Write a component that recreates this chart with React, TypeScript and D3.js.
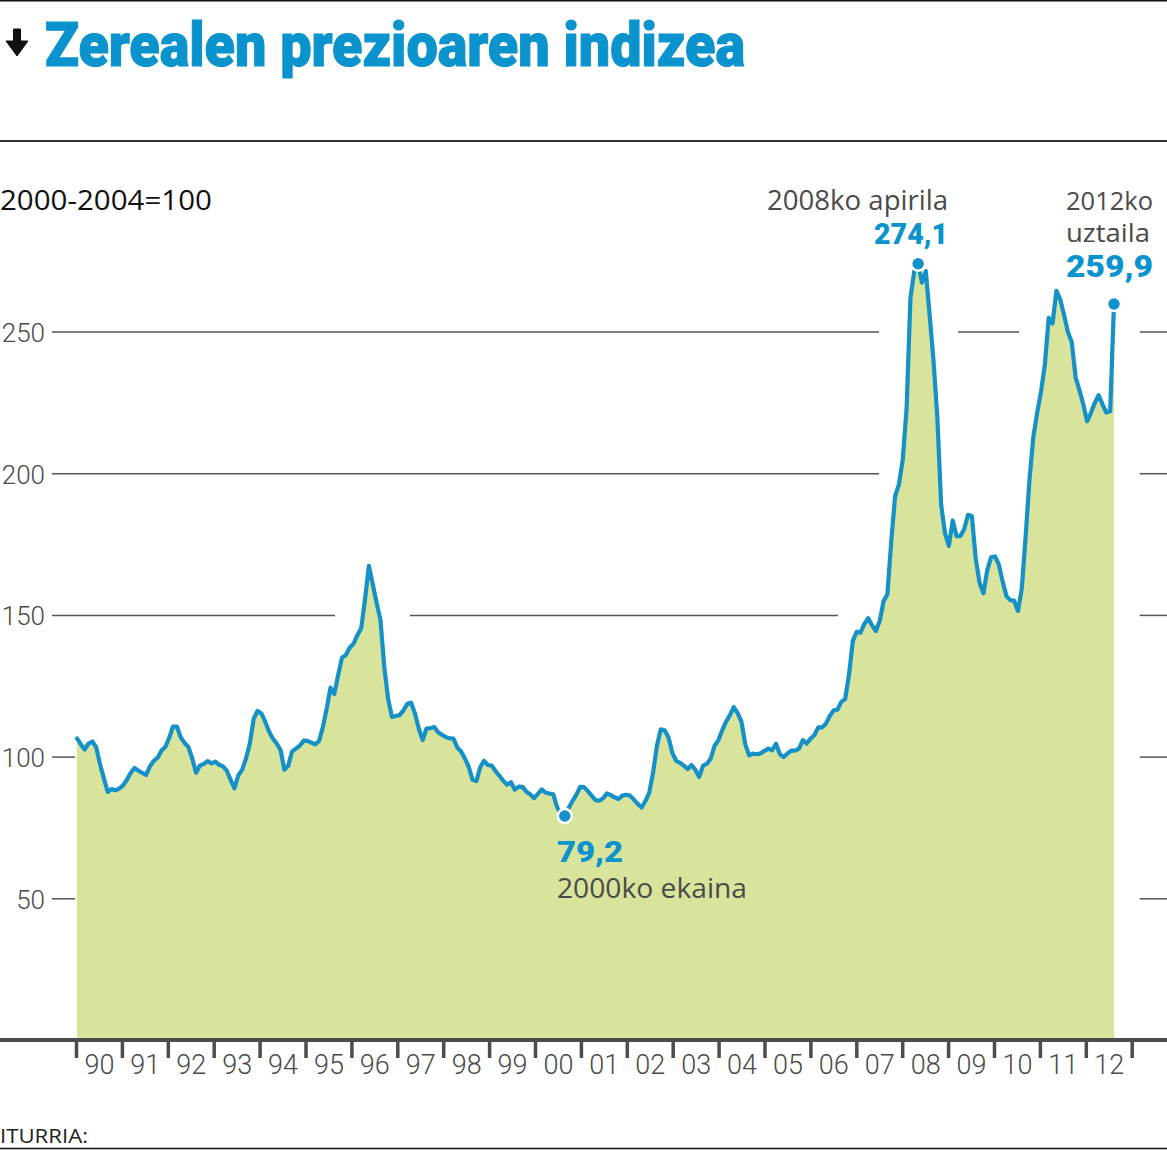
import React from 'react';
import * as d3 from 'd3';

// Monthly cereal price index (2000-2004 = 100), January 1990 – July 2012
const y1990 = [106.6, 104.5, 102.7, 104.8, 105.5, 103.5, 97.5, 92.5, 87.7, 88.7, 88.3, 88.9];
const y1991 = [90, 92, 94.5, 96.2, 95.2, 94.4, 93.7, 96.8, 98.7, 99.8, 102.3, 103.6];
const y1992 = [106.8, 110.8, 110.8, 107, 105, 103.6, 99.5, 94.5, 97, 97.6, 98.6, 97.8];
const y1993 = [98.4, 97.3, 96.7, 95.2, 92, 89, 93.6, 95.5, 99.5, 104.8, 113.5, 116.3];
const y1994 = [115.4, 112.5, 109, 106.5, 104.8, 102.5, 95.5, 97, 102, 103, 104, 105.8];
const y1995 = [105.7, 105.1, 104.5, 105.6, 110.5, 117, 124.5, 122.3, 129, 135.1, 136, 138.6];
const y1996 = [140, 143, 145.5, 155.8, 167.5, 161, 154.5, 148.5, 132, 120.5, 114.2, 114.5];
const y1997 = [114.8, 116.5, 118.8, 119.2, 115.4, 110, 106, 110.1, 110.2, 110.6, 108.8, 107.9];
const y1998 = [107.1, 106.6, 106.5, 103.4, 102, 99.5, 96.5, 92, 91.6, 96.5, 98.7, 97.2];
const y1999 = [97, 95, 93.4, 91.6, 90.2, 91.1, 88.5, 89.6, 89.5, 87.8, 86.9, 85.5];
const y2000 = [87, 88.6, 87.5, 87.1, 86.9, 82.3, 80, 79.2, 82, 84.5, 86.7, 89.5];
const y2001 = [89.4, 88, 86.4, 84.8, 84.6, 85.5, 87.2, 86.6, 85.8, 85.2, 86.4, 86.7];
const y2002 = [86.4, 85, 83.5, 82.2, 84.5, 87.5, 94.6, 104, 109.8, 109.5, 107, 101.5];
const y2003 = [98.7, 98, 97, 95.8, 97.2, 95.5, 93, 97, 97.6, 99.5, 104, 106];
const y2004 = [109.5, 112.5, 114.8, 117.6, 115.5, 112.5, 104.5, 100.6, 101.2, 101, 101.3, 102.2];
const y2005 = [103, 102.4, 104.7, 101, 100, 101.3, 102.3, 102.3, 103, 106, 104.8, 106.5];
const y2006 = [107.8, 110.5, 110.5, 111.8, 114.5, 116.5, 116.7, 119.5, 120.5, 129, 141, 144.2];
const y2007 = [143.9, 147, 149, 146.5, 144.5, 148, 155, 157.5, 176, 192, 196.2, 205];
const y2008 = [223, 262, 271.5, 274.1, 267.4, 271.5, 256, 240, 220, 189, 179, 174.5];
const y2009 = [183.5, 178, 178, 180.5, 185.5, 185, 170, 161.5, 157.8, 166, 170.5, 170.8];
const y2010 = [168, 162, 156.8, 155.4, 155.2, 151.5, 159.6, 178, 198, 213, 221.5, 229];
const y2011 = [238.5, 255, 253, 264.5, 261.5, 256, 250, 246.5, 234, 229.5, 224.5, 218.5];
const y2012 = [221.5, 225, 227.7, 224.5, 221.6, 222, 259.9];

const series: number[] = [
  ...y1990, ...y1991, ...y1992, ...y1993, ...y1994, ...y1995, ...y1996, ...y1997,
  ...y1998, ...y1999, ...y2000, ...y2001, ...y2002, ...y2003, ...y2004, ...y2005,
  ...y2006, ...y2007, ...y2008, ...y2009, ...y2010, ...y2011, ...y2012,
];

const yTicks = [50, 100, 150, 200, 250];
const years = d3.range(1990, 2013);
const yearLabels = ['90', '91', '92', '93', '94', '95', '96', '97', '98', '99', '00', '01', '02', '03', '04', '05', '06', '07', '08', '09', '10', '11', '12'];

// gridline interruptions, in month index units
const gridGaps: Record<number, [number, number][]> = {
  250: [[208.8, 229.4], [245.3, 276.7]],
  200: [[208.8, 276.7]],
  150: [[67.2, 86.7], [198.1, 276.7]],
  100: [[-0.5, 276.7]],
  50: [[-0.5, 276.7]],
};

const minIdx = 127;
const maxIdx = 219;
const lastIdx = series.length - 1;

const BLUE = '#1691c8';
const TITLE_BLUE = '#0a93cd';
const FILL = '#d8e49b';
const GRAY = '#4a4a4a';

export default function App() {
  const W = 1167;
  const H = 1150;
  const x = d3.scaleLinear().domain([0, 270]).range([77, 1114]);
  const xYear = d3.scaleLinear().domain([1990, 2013]).range([76.5, 1132.2]);
  const y = d3.scaleLinear().domain([0, 250]).range([1040.5, 332]);

  const area = d3.area<number>().x((_, i) => x(i)).y0(y(0)).y1((d) => y(d));
  const line = d3.line<number>().x((_, i) => x(i)).y((d) => y(d));

  const gridStart = 52;
  const gridEnd = W;

  const gridSegments = yTicks.flatMap((v) => {
    const gaps = gridGaps[v] || [];
    const segs: [number, number][] = [];
    let cur = gridStart;
    gaps.forEach(([a, b]) => {
      const xa = x(a);
      const xb = x(b);
      if (xa > cur) segs.push([cur, xa]);
      cur = Math.max(cur, xb);
    });
    if (cur < gridEnd) segs.push([cur, gridEnd]);
    return segs.map((s) => ({ v, s }));
  });

  const annoFont = "'Open Sans', 'DejaVu Sans', sans-serif";
  const numFont = "Roboto, 'DejaVu Sans', sans-serif";

  return (
    <svg
      width={W}
      height={H}
      viewBox={`0 0 ${W} ${H}`}
      style={{ position: 'absolute', left: 0, top: 0, display: 'block', background: '#fff' }}
    >
      <rect x={0} y={0} width={W} height={H} fill="#fff" />
      <line x1={0} x2={W} y1={0.75} y2={0.75} stroke="#111" strokeWidth={1.5} />

      {/* title */}
      <path d="M13.5,29 L20.5,29 L20.5,41 L28,41 L17,56 L6,41 L13.5,41 Z" fill="#111" strokeLinejoin="round" stroke="#111" strokeWidth={1} />
      <text
        x={45}
        y={66}
        fontFamily={numFont}
        fontWeight={900}
        fontSize={62}
        fill={TITLE_BLUE}
        stroke={TITLE_BLUE}
        strokeWidth={1.2}
        textLength={700}
        lengthAdjust="spacingAndGlyphs"
      >
        Zerealen prezioaren indizea
      </text>
      <line x1={0} x2={W} y1={141} y2={141} stroke="#333" strokeWidth={2} />

      <text x={0} y={210} fontFamily={annoFont} fontSize={27} fill="#111" textLength={212} lengthAdjust="spacingAndGlyphs">
        2000-2004=100
      </text>

      {/* grid */}
      {gridSegments.map(({ v, s }, i) => (
        <line key={`g${i}`} x1={s[0]} x2={s[1]} y1={y(v)} y2={y(v)} stroke="#555" strokeWidth={1.5} />
      ))}
      {yTicks.map((v) => (
        <text key={`yl${v}`} x={45} y={y(v) + 10} textAnchor="end" fontFamily={numFont} fontSize={26} fontWeight={300} fill={GRAY}>
          {v}
        </text>
      ))}

      {/* area + line */}
      <path d={area(series) || ''} fill={FILL} />
      <line x1={0} x2={W} y1={1040} y2={1040} stroke="#4d4d4d" strokeWidth={4} />
      {years.concat([2013]).map((yr) => (
        <line key={`t${yr}`} x1={xYear(yr)} x2={xYear(yr)} y1={1040} y2={1058} stroke="#4d4d4d" strokeWidth={3.5} />
      ))}
      {years.map((yr, i) => (
        <text
          key={`xl${yr}`}
          x={(xYear(yr) + xYear(yr + 1)) / 2}
          y={1074}
          textAnchor="middle"
          fontFamily={numFont}
          fontSize={27}
          fontWeight={300}
          fill={GRAY}
        >
          {yearLabels[i]}
        </text>
      ))}
      <path d={line(series) || ''} fill="none" stroke={BLUE} strokeWidth={4.2} strokeLinejoin="round" strokeLinecap="round" />

      {/* highlighted points */}
      {[minIdx, maxIdx, lastIdx].map((i) => (
        <circle key={`d${i}`} cx={x(i)} cy={y(series[i])} r={7} fill={BLUE} stroke="#fff" strokeWidth={2.5} />
      ))}

      {/* annotations */}
      <text x={948} y={210} textAnchor="end" fontFamily={annoFont} fontSize={27} fill={GRAY} textLength={181} lengthAdjust="spacingAndGlyphs">
        2008ko apirila
      </text>
      <text x={948} y={244} textAnchor="end" fontFamily={numFont} fontWeight={900} fontSize={30} fill={TITLE_BLUE} textLength={74} lengthAdjust="spacingAndGlyphs">
        274,1
      </text>

      <text x={1066} y={210} fontFamily={annoFont} fontSize={25} fill={GRAY} textLength={87} lengthAdjust="spacingAndGlyphs">
        2012ko
      </text>
      <text x={1066} y={242} fontFamily={annoFont} fontSize={25} fill={GRAY} textLength={84} lengthAdjust="spacingAndGlyphs">
        uztaila
      </text>
      <text x={1066} y={277} fontFamily={numFont} fontWeight={900} fontSize={31} fill={TITLE_BLUE} textLength={87} lengthAdjust="spacingAndGlyphs">
        259,9
      </text>

      <text x={557} y={862} fontFamily={numFont} fontWeight={900} fontSize={30} fill={TITLE_BLUE} textLength={66} lengthAdjust="spacingAndGlyphs">
        79,2
      </text>
      <text x={557} y={898} fontFamily={annoFont} fontSize={27} fill={GRAY} textLength={190} lengthAdjust="spacingAndGlyphs">
        2000ko ekaina
      </text>

      {/* source */}
      <text x={0} y={1143} fontFamily={annoFont} fontSize={20} fill="#222" textLength={88} lengthAdjust="spacingAndGlyphs">
        ITURRIA:
      </text>
      <line x1={0} x2={W} y1={1148.5} y2={1148.5} stroke="#111" strokeWidth={1.5} />
    </svg>
  );
}
